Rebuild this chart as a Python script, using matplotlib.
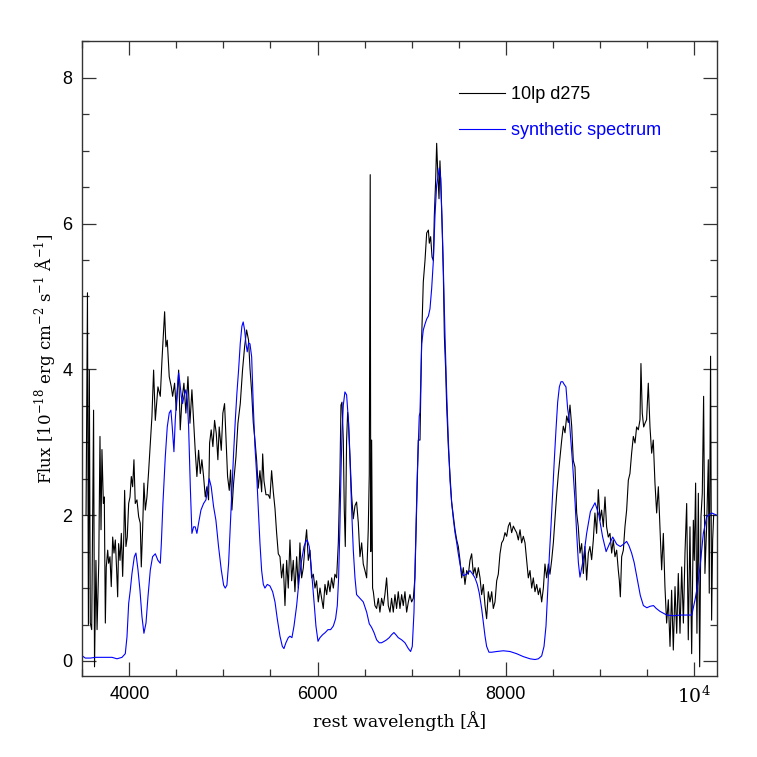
import numpy as np
import matplotlib.pyplot as plt
from matplotlib.ticker import MultipleLocator, FixedLocator

# serif font for axis titles (IDL-like look)
plt.rcParams['mathtext.fontset'] = 'custom'
plt.rcParams['mathtext.rm'] = 'DejaVu Serif'

# observed spectrum, wavelength [A] and flux [1e-18 erg/cm2/s/A]
obs_wave = [3540, 3555, 3565, 3575, 3585, 3600, 3620, 3630, 3645, 3657,
            3675, 3688, 3699, 3709, 3724, 3734, 3745, 3755, 3770, 3780,
            3794, 3808, 3823, 3837, 3851, 3865, 3876, 3886, 3901, 3915,
            3929, 3943, 3950, 3964, 3978, 3993, 4007, 4021, 4035, 4049,
            4063, 4081, 4099, 4116, 4127, 4141, 4155, 4170, 4187, 4205,
            4223, 4240, 4258, 4276, 4304, 4329, 4347, 4364, 4375, 4389,
            4403, 4424, 4446, 4460, 4481, 4499, 4524, 4541, 4559, 4580,
            4601, 4623, 4644, 4665, 4686, 4700, 4718, 4736, 4754, 4771,
            4789, 4807, 4824, 4842, 4853, 4870, 4888, 4906, 4924, 4941,
            4955, 4977, 4994, 5012, 5026, 5044, 5062, 5076, 5090, 5108,
            5133, 5154, 5179, 5203, 5225, 5246, 5267, 5282, 5300, 5317,
            5335, 5353, 5370, 5388, 5406, 5417, 5431, 5452, 5477, 5494,
            5512, 5530, 5548, 5565, 5583, 5601, 5618, 5636, 5654, 5672,
            5689, 5707, 5725, 5742, 5760, 5778, 5796, 5813, 5831, 5849,
            5866, 5884, 5902, 5920, 5937, 5955, 5973, 5990, 6008, 6026,
            6044, 6061, 6079, 6097, 6114, 6132, 6150, 6168, 6185, 6203,
            6221, 6238, 6249, 6260, 6274, 6284, 6295, 6309, 6320, 6330,
            6345, 6362, 6380, 6398, 6415, 6433, 6451, 6469, 6486, 6504,
            6522, 6539, 6550, 6560, 6566, 6575, 6585, 6593, 6610, 6628,
            6646, 6663, 6681, 6699, 6716, 6734, 6752, 6770, 6787, 6805,
            6823, 6840, 6858, 6876, 6894, 6911, 6929, 6947, 6965, 6982,
            7000, 7018, 7035, 7053, 7071, 7089, 7107, 7124, 7142, 7160,
            7178, 7188, 7202, 7217, 7231, 7241, 7255, 7266, 7277, 7291,
            7301, 7312, 7326, 7337, 7348, 7362, 7372, 7390, 7408, 7425,
            7443, 7461, 7479, 7496, 7514, 7532, 7549, 7567, 7585, 7603,
            7620, 7638, 7656, 7673, 7691, 7709, 7727, 7744, 7762, 7780,
            7797, 7815, 7833, 7851, 7868, 7886, 7904, 7921, 7939, 7957,
            7975, 7992, 8010, 8028, 8045, 8063, 8081, 8099, 8116, 8134,
            8152, 8169, 8187, 8205, 8223, 8240, 8258, 8276, 8293, 8311,
            8329, 8347, 8364, 8382, 8400, 8417, 8435, 8453, 8470, 8488,
            8506, 8523, 8541, 8559, 8577, 8595, 8612, 8630, 8648, 8665,
            8683, 8701, 8718, 8736, 8754, 8771, 8789, 8807, 8825, 8842,
            8860, 8878, 8895, 8913, 8931, 8948, 8966, 8984, 9002, 9019,
            9037, 9055, 9072, 9090, 9108, 9126, 9143, 9161, 9179, 9196,
            9207, 9218, 9232, 9250, 9267, 9285, 9303, 9320, 9338, 9356,
            9374, 9391, 9409, 9427, 9437, 9451, 9466, 9480, 9497, 9515,
            9533, 9551, 9568, 9586, 9604, 9622, 9639, 9657, 9675, 9692,
            9710, 9728, 9746, 9763, 9781, 9799, 9817, 9834, 9852, 9870,
            9888, 9905, 9923, 9940, 9958, 9976, 9994, 10004, 10018, 10032,
            10047, 10061, 10075, 10089, 10103, 10117, 10135, 10153, 10163, 10177,
            10188, 10199, 10210]
obs_flux = [2.00, 5.05, 0.50, 3.99, 0.52, 0.43, 3.44, -0.08, 1.38, 0.43,
            1.34, 3.08, 1.80, 2.90, 2.16, 2.25, 0.52, 1.29, 1.52, 1.34,
            1.43, 1.02, 1.70, 1.48, 1.66, 1.25, 0.88, 1.61, 1.38, 1.75,
            1.16, 1.80, 2.34, 1.57, 1.70, 2.16, 2.25, 2.53, 2.39, 2.76,
            2.16, 2.21, 1.98, 1.89, 1.29, 1.80, 2.44, 2.07, 2.25, 2.60,
            2.99, 3.35, 3.99, 3.30, 3.76, 3.63, 4.13, 4.54, 4.79, 4.31,
            4.40, 3.90, 3.76, 3.63, 3.81, 3.44, 3.99, 3.17, 3.58, 3.81,
            3.40, 3.90, 3.26, 3.72, 3.21, 2.89, 2.53, 2.89, 2.57, 2.76,
            2.53, 2.25, 2.39, 2.21, 2.99, 3.17, 2.94, 3.30, 3.12, 2.76,
            3.21, 2.89, 3.40, 3.53, 3.08, 2.53, 2.34, 2.62, 2.07, 2.44,
            2.80, 3.26, 3.53, 3.99, 4.31, 4.54, 4.40, 4.02, 3.69, 3.27,
            3.03, 2.75, 2.37, 2.61, 2.32, 2.84, 2.47, 2.28, 2.28, 2.23,
            2.61, 2.32, 2.09, 1.76, 1.47, 1.43, 1.14, 1.33, 0.76, 1.38,
            1.00, 1.66, 1.10, 1.38, 0.95, 1.43, 1.00, 1.62, 1.14, 1.28,
            1.57, 1.80, 1.38, 1.52, 1.14, 1.19, 1.00, 1.10, 0.81, 1.00,
            0.86, 0.72, 1.05, 0.91, 1.10, 0.95, 1.14, 1.00, 1.19, 1.14,
            1.62, 2.56, 3.51, 3.55, 3.03, 2.09, 1.57, 3.03, 3.41, 3.27,
            2.80, 2.28, 1.95, 2.13, 2.18, 1.90, 1.43, 1.62, 1.33, 1.24,
            1.14, 1.80, 2.56, 6.67, 1.50, 3.03, 1.00, 0.95, 0.76, 0.72,
            0.86, 0.67, 0.86, 0.76, 0.91, 1.14, 0.76, 0.67, 0.86, 0.67,
            0.91, 0.72, 0.95, 0.72, 0.91, 0.76, 0.95, 0.67, 0.81, 0.91,
            0.81, 0.86, 1.14, 2.09, 3.03, 3.03, 4.45, 5.20, 5.49, 5.87,
            5.91, 5.73, 5.82, 5.54, 5.49, 6.10, 6.58, 7.10, 6.72, 6.34,
            6.86, 6.48, 5.87, 5.30, 4.45, 3.98, 3.51, 2.94, 2.56, 2.18,
            1.99, 1.80, 1.66, 1.57, 1.38, 1.14, 1.28, 1.05, 1.24, 1.19,
            1.38, 1.47, 1.19, 1.28, 1.14, 1.28, 1.14, 0.91, 1.05, 0.76,
            0.58, 0.95, 0.81, 0.95, 0.72, 0.81, 1.10, 1.19, 1.47, 1.62,
            1.66, 1.76, 1.71, 1.85, 1.90, 1.76, 1.85, 1.80, 1.76, 1.66,
            1.80, 1.62, 1.71, 1.62, 1.38, 1.14, 1.24, 1.00, 1.14, 0.95,
            1.05, 0.91, 1.00, 0.81, 1.00, 1.33, 1.14, 1.33, 1.19, 1.38,
            1.62, 1.95, 2.28, 2.56, 2.80, 3.03, 3.22, 3.13, 3.36, 3.27,
            3.51, 3.22, 2.75, 2.66, 2.03, 1.84, 1.48, 1.61, 1.20, 1.57,
            1.11, 1.48, 1.57, 1.39, 1.66, 2.03, 1.75, 2.35, 1.93, 2.07,
            1.84, 2.25, 1.84, 1.70, 1.75, 1.48, 1.66, 1.43, 1.52, 1.25,
            1.11, 0.88, 1.43, 1.52, 1.84, 2.07, 2.48, 2.57, 2.85, 3.08,
            2.99, 3.21, 3.17, 3.31, 4.08, 3.40, 3.21, 3.26, 3.31, 3.81,
            3.21, 2.85, 3.03, 2.44, 2.03, 2.39, 1.84, 1.25, 1.75, 1.02,
            0.52, 0.84, 0.20, 0.97, 0.15, 1.02, 0.38, 1.20, 0.38, 1.29,
            0.52, 1.48, 2.16, 0.29, 1.84, 0.10, 1.93, 1.38, 2.44, 0.38,
            2.30, -0.08, 1.98, 2.30, 3.63, 1.20, 1.84, 2.76, 0.93, 4.18,
            0.56, 1.66, 2.00]

# synthetic spectrum
syn_wave = [3500, 3532, 3586, 3639, 3709, 3816, 3869, 3922, 3957, 3975,
            3993, 4010, 4028, 4053, 4070, 4092, 4113, 4134, 4155, 4177,
            4198, 4223, 4247, 4276, 4304, 4329, 4340, 4357, 4382, 4403,
            4424, 4442, 4456, 4474, 4488, 4506, 4524, 4538, 4552, 4566,
            4580, 4601, 4616, 4630, 4648, 4665, 4683, 4700, 4718, 4736,
            4761, 4789, 4814, 4835, 4849, 4870, 4895, 4920, 4948, 4977,
            5002, 5019, 5037, 5055, 5073, 5090, 5108, 5126, 5143, 5161,
            5179, 5196, 5210, 5225, 5239, 5253, 5267, 5282, 5300, 5317,
            5335, 5353, 5370, 5388, 5406, 5424, 5441, 5466, 5494, 5523,
            5548, 5572, 5601, 5626, 5643, 5664, 5689, 5707, 5728, 5750,
            5778, 5806, 5831, 5856, 5877, 5891, 5912, 5930, 5948, 5966,
            5983, 6005, 6026, 6054, 6082, 6111, 6139, 6168, 6192, 6210,
            6224, 6238, 6249, 6260, 6274, 6291, 6309, 6327, 6345, 6362,
            6380, 6398, 6415, 6451, 6486, 6522, 6550, 6575, 6600, 6628,
            6656, 6681, 6709, 6734, 6762, 6787, 6812, 6833, 6858, 6894,
            6929, 6965, 6989, 7007, 7025, 7042, 7060, 7081, 7089, 7107,
            7124, 7142, 7160, 7178, 7195, 7213, 7231, 7248, 7266, 7284,
            7294, 7309, 7323, 7337, 7355, 7372, 7390, 7408, 7425, 7443,
            7461, 7479, 7496, 7514, 7532, 7549, 7585, 7620, 7649, 7673,
            7698, 7719, 7744, 7762, 7780, 7797, 7822, 7851, 7904, 7975,
            8045, 8116, 8187, 8258, 8311, 8347, 8382, 8407, 8428, 8446,
            8463, 8481, 8499, 8516, 8534, 8552, 8570, 8587, 8605, 8623,
            8640, 8658, 8676, 8693, 8711, 8736, 8754, 8772, 8789, 8825,
            8860, 8900, 8949, 8990, 9030, 9067, 9100, 9137, 9180, 9218,
            9250, 9285, 9310, 9338, 9365, 9392, 9430, 9463, 9500, 9534,
            9570, 9600, 9640, 9711, 9782, 9853, 9924, 9977, 10012, 10040,
            10065, 10100, 10136, 10189, 10242]
syn_flux = [0.07, 0.04, 0.04, 0.05, 0.05, 0.05, 0.03, 0.05, 0.10, 0.33,
            0.79, 0.97, 1.20, 1.43, 1.48, 1.25, 0.97, 0.61, 0.38, 0.52,
            0.88, 1.25, 1.43, 1.47, 1.38, 1.34, 1.61, 2.16, 2.80, 3.21,
            3.40, 3.44, 3.21, 2.87, 3.30, 3.67, 3.95, 3.81, 3.63, 3.53,
            3.63, 3.72, 3.58, 3.21, 2.39, 1.75, 1.84, 1.84, 1.75, 1.89,
            2.07, 2.16, 2.21, 2.39, 2.50, 2.39, 2.12, 1.93, 1.57, 1.25,
            1.04, 1.00, 1.04, 1.34, 1.84, 2.34, 2.85, 3.30, 3.67, 3.99,
            4.36, 4.59, 4.65, 4.54, 4.36, 4.24, 4.36, 4.35, 4.17, 3.51,
            2.94, 2.56, 2.09, 1.62, 1.24, 1.05, 1.00, 1.05, 1.03, 0.95,
            0.81, 0.58, 0.34, 0.20, 0.17, 0.25, 0.32, 0.34, 0.32, 0.48,
            0.76, 1.14, 1.38, 1.57, 1.64, 1.66, 1.57, 1.33, 1.05, 0.76,
            0.48, 0.27, 0.32, 0.36, 0.39, 0.43, 0.43, 0.48, 0.58, 0.76,
            1.14, 1.85, 2.56, 3.13, 3.51, 3.69, 3.65, 3.32, 2.75, 2.09,
            1.52, 1.14, 0.91, 0.86, 0.81, 0.67, 0.51, 0.46, 0.39, 0.29,
            0.25, 0.25, 0.27, 0.29, 0.32, 0.36, 0.39, 0.36, 0.32, 0.29,
            0.25, 0.17, 0.13, 0.20, 0.67, 1.62, 2.56, 3.36, 3.41, 4.35,
            4.54, 4.62, 4.69, 4.73, 4.83, 5.11, 5.49, 6.10, 6.53, 6.67,
            6.76, 6.62, 6.06, 5.39, 4.45, 3.69, 3.03, 2.47, 2.18, 1.95,
            1.76, 1.62, 1.47, 1.33, 1.21, 1.17, 1.19, 1.24, 1.19, 1.14,
            1.05, 0.93, 0.72, 0.53, 0.34, 0.20, 0.12, 0.12, 0.13, 0.14,
            0.13, 0.10, 0.06, 0.03, 0.02, 0.03, 0.07, 0.20, 0.48, 0.95,
            1.43, 1.85, 2.32, 2.75, 3.17, 3.55, 3.76, 3.83, 3.83, 3.79,
            3.76, 3.46, 3.30, 3.00, 2.70, 2.20, 1.75, 1.35, 1.15, 1.40,
            1.75, 2.05, 2.17, 2.00, 1.70, 1.50, 1.60, 1.70, 1.60, 1.57,
            1.60, 1.64, 1.58, 1.48, 1.35, 1.16, 0.90, 0.76, 0.73, 0.75,
            0.76, 0.72, 0.68, 0.63, 0.62, 0.63, 0.63, 0.63, 0.84, 1.05,
            1.29, 1.75, 1.98, 2.03, 2.00]

xtick_vals = [4000, 6000, 8000, 10000]
xtick_labels = ['4000', '6000', '8000', r'$\mathregular{10^4}$']
ytick_vals = [0, 2, 4, 6, 8]

fig = plt.figure(figsize=(7.57, 7.57), dpi=100)
ax = fig.add_axes([0.1087, 0.107, 0.8388, 0.8388])

ax.plot(obs_wave, obs_flux, color='black', lw=0.8, label='10lp d275')
ax.plot(syn_wave, syn_flux, color='#0000ff', lw=0.8, label='synthetic spectrum')

ax.set_xlim(3500, 10248)
ax.set_ylim(-0.206, 8.503)

ax.xaxis.set_major_locator(FixedLocator(xtick_vals))
ax.set_xticklabels(xtick_labels, fontsize=13, family='Liberation Sans')
ax.xaxis.set_minor_locator(MultipleLocator(500))
ax.set_yticks(ytick_vals)
ax.set_yticklabels([str(v) for v in ytick_vals], fontsize=13, family='Liberation Sans')
ax.yaxis.set_minor_locator(MultipleLocator(0.5))
lab4 = ax.get_xticklabels()[-1]
lab4.set_family('DejaVu Serif')
lab4.set_fontsize(13.5)

ax.tick_params(which='both', direction='in', top=True, right=True,
               color='#333333', width=0.9)
ax.tick_params(which='major', length=10, pad=7)
ax.tick_params(which='minor', length=5)
for s in ax.spines.values():
    s.set_color('#333333')
    s.set_linewidth(1.0)

ax.set_xlabel('rest wavelength [Å]', fontsize=12.5, family='DejaVu Serif', labelpad=3)
ax.set_ylabel(r'Flux [10$^{-18}$ erg cm$^{-2}$ s$^{-1}$ Å$^{-1}$]',
              fontsize=12, family='DejaVu Serif', labelpad=3)

leg = ax.legend(loc='upper left', bbox_to_anchor=(0.593, 0.929), frameon=False,
                handlelength=2.55, handletextpad=0.35,
                labelspacing=1.05, borderpad=0, borderaxespad=0,
                labelcolor='linecolor', prop={'family': 'Liberation Sans', 'size': 13})

fig.savefig('out.png', dpi=100)
